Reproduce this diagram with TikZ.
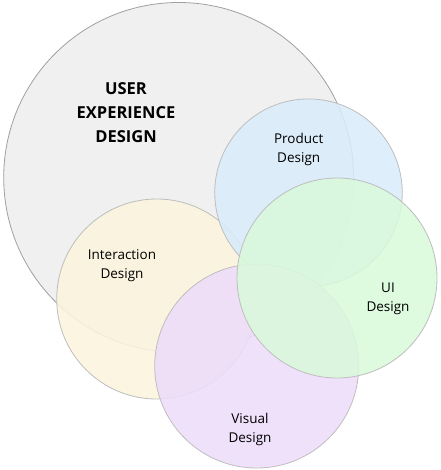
\documentclass[tikz,border=0pt]{standalone}
\usepackage{fontspec}
\setmainfont{Open Sans}
\usepackage{xcolor}
\definecolor{uxgray}{RGB}{238,238,238}
\definecolor{pblue}{RGB}{217,236,251}
\definecolor{uigreen}{RGB}{217,249,219}
\definecolor{ixyellow}{RGB}{251,244,221}
\definecolor{vpurple}{RGB}{238,221,250}
\definecolor{rim}{RGB}{190,190,190}
\definecolor{darkrim}{RGB}{160,160,160}
\usepackage{tikz}

\begin{document}
\begin{tikzpicture}[x=1pt,y=-1pt,
  area/.style={circle,draw=rim,line width=0.8pt,fill opacity=0.88,inner sep=0pt},
  big/.style={align=center,font=\fontsize{16.5}{24}\selectfont\bfseries},
  lbl/.style={align=center,font=\fontsize{13.5}{19}\selectfont}
]
  \useasboundingbox (0,0) rectangle (440,470);

  % === Circles ===
  \node[area,draw=darkrim,fill=uxgray,minimum size=350pt] (ux) at (178.7,177.5) {};
  \node[area,fill=ixyellow,minimum size=200pt] (ix) at (156.7,299) {};
  \node[area,fill=pblue,minimum size=187.5pt] (pd) at (308.5,192.7) {};
  \node[area,fill=vpurple,minimum size=204pt] (vd) at (256.7,366) {};
  \node[area,fill=uigreen,minimum size=200pt] (ui) at (337,278) {};

  % === Labels ===
  \node[big] (uxt) at (126,113) {USER\\EXPERIENCE\\DESIGN};
  \node[lbl] (pdt) at (298.7,149) {Product\\Design};
  \node[lbl] (ixt) at (122,266) {Interaction\\Design};
  \node[lbl] (uit) at (388,299) {UI\\Design};
  \node[lbl] (vdt) at (250,429) {Visual\\Design};
\end{tikzpicture}
\end{document}
